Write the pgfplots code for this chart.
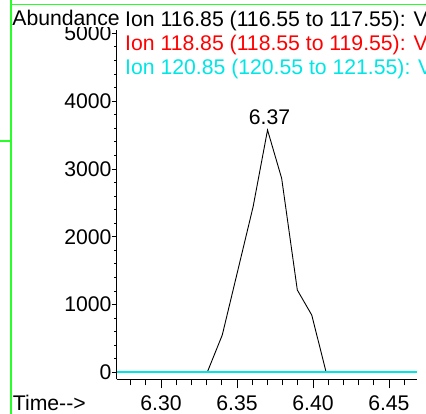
\documentclass[border=0pt]{standalone}
\usepackage{fontspec}
\setmainfont{Liberation Sans}
\usepackage{pgfplots}
\pgfplotsset{compat=1.18}
\definecolor{gline}{RGB}{40,255,40}
\definecolor{ionred}{RGB}{255,0,0}
\definecolor{ioncyan}{RGB}{0,230,230}
\newcommand{\fs}{\fontsize{21.2bp}{24bp}\selectfont}
\pgfplotsset{base/.style={
  at={(116.7bp,34.7bp)}, anchor=south west,
  scale only axis, width=300bp, height=349.3bp,
  xmin=6.2708, xmax=6.4683, ymin=-103, ymax=5049,
  axis line style={-, line width=0.9bp, black},
  tick align=outside,
  tick style={black, line width=0.8bp},
  ticklabel style={font=\fs},
  clip=false}}
\begin{document}
\fs
\begin{tikzpicture}[x=1bp,y=1bp]
\useasboundingbox (0,0) rectangle (426,414);
\clip (0,0) rectangle (426,414);
\begin{axis}[base,
  axis y line=none, axis x line*=bottom,
  xtick={6.30,6.35,6.40,6.45}, xticklabels={6.30,6.35,6.40,6.45},
  minor xtick={6.28,6.29,6.31,6.32,6.33,6.34,6.36,6.37,6.38,6.39,6.41,6.42,6.43,6.44,6.46},
  major tick length=9bp, minor tick length=6bp,
  xticklabel style={inner sep=0pt, yshift=-7bp},
]
\addplot[black, line width=0.9bp] coordinates {
 (6.2708,0) (6.3304,0) (6.3403,550) (6.3505,1500) (6.3606,2442) (6.3701,3574)
 (6.3794,2861) (6.3897,1214) (6.3992,845) (6.4087,0) (6.4683,0)};
\addplot[ionred, line width=1bp] coordinates {(6.2708,0) (6.4683,0)};
\addplot[ioncyan, line width=2bp] coordinates {(6.2708,0) (6.4683,0)};
\node[anchor=base, xshift=2bp, yshift=5.5bp, inner sep=0pt] at (axis cs:6.3701,3574) {6.37};
\end{axis}
\begin{axis}[base,
  axis x line=none, axis y line*=left,
  ytick={0,1000,2000,3000,4000,5000}, yticklabels={0,1000,2000,3000,4000,5000},
  minor ytick={200,400,600,800,1200,1400,1600,1800,2200,2400,2600,2800,3200,3400,3600,3800,4200,4400,4600,4800},
  major tick length=5bp, minor tick length=2.5bp,
  yticklabel style={anchor=east, inner sep=0pt},
]
\end{axis}
\node[anchor=base west, inner sep=0pt, text depth=1.5bp, fill=white] at (12.2,388) {Abundance};
\node[anchor=base west, inner sep=0pt] at (125,387.3) {Ion 116.85 (116.55 to 117.55): V};
\node[anchor=base west, inner sep=0pt, text=ionred] at (125,364) {Ion 118.85 (118.55 to 119.55): V};
\node[anchor=base west, inner sep=0pt, text=ioncyan] at (125,340) {Ion 120.85 (120.55 to 121.55): V};
\node[anchor=base west, inner sep=0pt] at (12.7,3.3) {Time-{}-{}>};
\draw[gline, line width=2bp] (11,0) -- (11,414);
\draw[gline, line width=1.5bp] (10,409.5) -- (426,409.5);
\draw[gline, line width=2bp] (0,273) -- (11,273);
\end{tikzpicture}
\end{document}
